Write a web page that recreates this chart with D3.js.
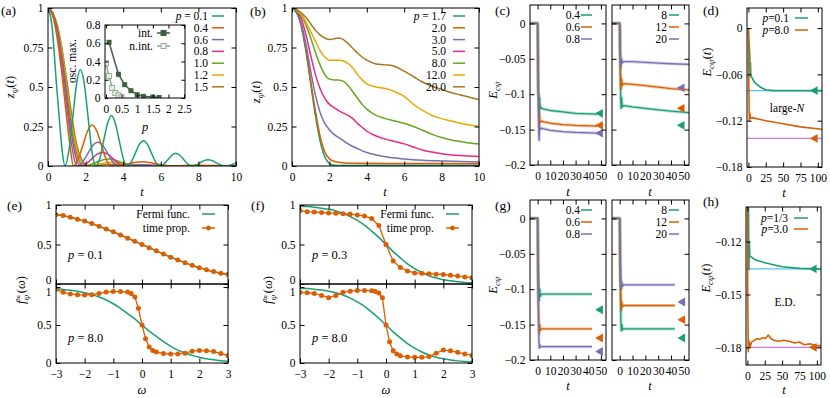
<!DOCTYPE html>
<html>
<head>
<meta charset="utf-8">
<script src="https://cdn.jsdelivr.net/npm/d3@7"></script>
<style>
  body { margin: 0; background: #fff; }
  svg { font-family: "Liberation Serif", "DejaVu Serif", serif; }
</style>
</head>
<body>
<svg id="fig" width="830" height="398"></svg>
<script>
// ---------- data ----------
// (a) z_psi(t), small p
const pA = ['0.1', '0.4', '0.6', '0.8', '1.0', '1.2', '1.5'];
const zA1 = [[0,1],[0.2,0.9],[0.45,0.52],[0.6,0.3],[0.75,0.1],[0.9,0],[1.1,0.09],[1.31,0.3],[1.52,0.52],[1.72,0.61],[1.93,0.52],[2.14,0.3],[2.34,0.09],[2.55,0],[2.76,0.05],[2.96,0.16],[3.17,0.27],[3.38,0.32],[3.58,0.27],[3.79,0.16],[4.0,0.05],[4.2,0],[4.42,0.023],[4.64,0.08],[4.86,0.137],[5.08,0.16],[5.29,0.137],[5.51,0.08],[5.73,0.023],[5.95,0],[6.16,0.012],[6.38,0.04],[6.59,0.068],[6.8,0.08],[7.01,0.068],[7.23,0.04],[7.44,0.012],[7.65,0],[7.87,0.006],[8.09,0.02],[8.3,0.034],[8.52,0.04],[8.74,0.034],[8.96,0.02],[9.18,0.006],[9.4,0],[9.6,0.003],[9.8,0.01],[10,0.02]];
const zA2 = [[0,1],[0.25,0.95],[0.5,0.8],[0.75,0.57],[1.0,0.3],[1.2,0.1],[1.35,0],[1.6,0.04],[1.85,0.13],[2.1,0.22],[2.35,0.26],[2.6,0.22],[2.85,0.13],[3.1,0.04],[3.35,0],[3.8,0.004],[4.2,0.012],[4.6,0.022],[5.0,0.027],[5.4,0.022],[5.8,0.012],[6.2,0.004],[6.6,0],[7,0.002],[8,0.005],[9,0.003],[10,0.002]];
const zA3 = [[0,1],[0.25,0.96],[0.5,0.83],[0.75,0.62],[1.0,0.37],[1.25,0.14],[1.45,0.02],[1.55,0],[1.82,0.022],[2.1,0.075],[2.37,0.128],[2.65,0.15],[2.92,0.128],[3.2,0.075],[3.47,0.022],[3.75,0],[4.3,0.004],[5.0,0.008],[5.7,0.004],[6.3,0.001],[10,0.001]];
const zA4 = [[0,1],[0.25,0.96],[0.5,0.85],[0.75,0.66],[1.0,0.42],[1.25,0.2],[1.5,0.05],[1.7,0],[2.0,0.012],[2.3,0.042],[2.6,0.073],[2.9,0.085],[3.2,0.073],[3.5,0.042],[3.8,0.012],[4.1,0],[5,0.003],[6,0],[10,0]];
const zA5 = [[0,1],[0.25,0.97],[0.5,0.87],[0.75,0.69],[1.0,0.47],[1.25,0.25],[1.5,0.09],[1.75,0.01],[1.85,0],[2.2,0.007],[2.55,0.022],[2.9,0.038],[3.2,0.045],[3.55,0.038],[3.9,0.022],[4.25,0.007],[4.6,0],[10,0]];
const zA6 = [[0,1],[0.25,0.97],[0.5,0.88],[0.75,0.72],[1.0,0.5],[1.25,0.29],[1.5,0.12],[1.75,0.03],[1.95,0],[2.35,0.004],[2.7,0.012],[3.1,0.021],[3.45,0.025],[3.85,0.021],[4.2,0.012],[4.6,0.004],[5.0,0],[10,0]];
const zA7 = [[0,1],[0.25,0.97],[0.5,0.89],[0.75,0.74],[1.0,0.54],[1.25,0.33],[1.5,0.15],[1.75,0.05],[2.0,0.005],[2.1,0],[3.0,0.008],[3.8,0.012],[4.6,0.008],[5.5,0],[10,0]];
// (a) inset: first oscillation maximum
const pInt = [0.1, 0.4, 0.6, 0.8, 1.0, 1.2, 1.5, 1.7];
const maxInt = [0.61, 0.26, 0.146, 0.08, 0.036, 0.018, 0.01, 0.005];
const pNint = [0, 0.1, 0.2, 0.3, 0.4, 0.5];
const maxNint = [0.38, 0.24, 0.11, 0.055, 0.03, 0.008];

// (b) z_psi(t), large p
const pB = ['1.7', '2.0', '3.0', '5.0', '8.0', '12.0', '20.0'];
const zB1 = [[0,1],[0.25,0.97],[0.5,0.88],[0.75,0.72],[1.0,0.52],[1.25,0.32],[1.5,0.16],[1.75,0.06],[2.0,0.015],[2.25,0.004],[2.5,0.003],[4,0.004],[10,0.004]];
const zB2 = [[0,1],[0.25,0.97],[0.5,0.89],[0.75,0.74],[1.0,0.54],[1.25,0.35],[1.5,0.19],[1.75,0.09],[2.0,0.045],[2.25,0.03],[2.5,0.024],[3,0.018],[4,0.017],[6,0.016],[10,0.015]];
const zB3 = [[0,1],[0.25,0.97],[0.5,0.9],[0.75,0.77],[1.0,0.6],[1.25,0.45],[1.5,0.34],[1.75,0.27],[2.0,0.23],[2.25,0.2],[2.5,0.18],[2.75,0.16],[3.0,0.14],[3.5,0.11],[4.0,0.085],[4.5,0.07],[5,0.058],[6,0.045],[7,0.037],[8,0.032],[9,0.028],[10,0.026]];
const zB4 = [[0,1],[0.25,0.98],[0.5,0.93],[0.75,0.83],[1.0,0.7],[1.25,0.58],[1.5,0.49],[1.75,0.43],[2.0,0.39],[2.25,0.37],[2.5,0.35],[2.75,0.335],[3.0,0.32],[3.25,0.3],[3.5,0.27],[3.75,0.245],[4.0,0.22],[4.5,0.19],[5.0,0.17],[5.5,0.155],[6.0,0.14],[6.5,0.12],[7.0,0.1],[7.5,0.088],[8,0.078],[9,0.066],[10,0.06]];
const zB5 = [[0,1],[0.25,0.98],[0.5,0.95],[0.75,0.89],[1.0,0.81],[1.25,0.72],[1.5,0.64],[1.75,0.58],[2.0,0.55],[2.25,0.545],[2.5,0.545],[2.75,0.535],[3.0,0.51],[3.25,0.47],[3.5,0.43],[3.75,0.39],[4.0,0.36],[4.5,0.32],[5.0,0.3],[5.5,0.285],[6.0,0.27],[6.5,0.25],[7.0,0.225],[7.5,0.2],[8.0,0.18],[8.5,0.165],[9,0.155],[9.5,0.145],[10,0.14]];
const zB6 = [[0,1],[0.25,0.99],[0.5,0.96],[0.75,0.91],[1.0,0.85],[1.25,0.79],[1.5,0.73],[1.75,0.69],[2.0,0.67],[2.25,0.67],[2.5,0.67],[2.75,0.665],[3.0,0.65],[3.25,0.62],[3.5,0.58],[3.75,0.545],[4.0,0.52],[4.5,0.5],[5.0,0.49],[5.5,0.47],[6.0,0.44],[6.5,0.39],[7.0,0.35],[7.5,0.32],[8.0,0.3],[8.5,0.285],[9,0.27],[9.5,0.26],[10,0.25]];
const zB7 = [[0,1],[0.25,0.99],[0.5,0.97],[0.75,0.94],[1.0,0.9],[1.25,0.86],[1.5,0.83],[1.75,0.81],[2.0,0.8],[2.25,0.805],[2.5,0.81],[2.75,0.8],[3.0,0.775],[3.25,0.745],[3.5,0.715],[3.75,0.69],[4.0,0.67],[4.5,0.645],[5.0,0.64],[5.5,0.63],[6.0,0.6],[6.5,0.565],[7.0,0.53],[7.5,0.505],[8.0,0.485],[8.5,0.465],[9,0.45],[9.5,0.435],[10,0.42]];

// (c) E_cpsi(t), left: p = 0.4, 0.6, 0.8 ; right: p = 8, 12, 20
const pCL = ['0.4', '0.6', '0.8'];
const pCR = ['8', '12', '20'];
const eC04 = [[-6,0],[0,0],[0.3,-0.05],[0.6,-0.1],[1,-0.1],[1.3,-0.13],[1.6,-0.105],[2,-0.12],[2.5,-0.118],[3,-0.12],[5,-0.121],[10,-0.123],[20,-0.125],[30,-0.127],[47,-0.128]];
const eC06 = [[-6,0],[0,0],[0.5,-0.08],[1,-0.125],[1.3,-0.145],[1.6,-0.13],[2,-0.14],[3,-0.138],[5,-0.139],[10,-0.141],[20,-0.143],[30,-0.144],[47,-0.145]];
const eC08 = [[-6,0],[0,0],[0.5,-0.1],[1,-0.16],[1.3,-0.165],[1.6,-0.145],[2,-0.15],[3,-0.148],[5,-0.149],[10,-0.151],[20,-0.153],[30,-0.154],[47,-0.155]];
const eC8 = [[-6,0],[0,0],[0.5,-0.08],[1,-0.12],[1.5,-0.105],[2,-0.118],[3,-0.116],[10,-0.118],[20,-0.12],[30,-0.122],[40,-0.124],[54,-0.126]];
const eC12 = [[-6,0],[0,0],[0.5,-0.06],[1,-0.093],[1.5,-0.078],[2,-0.088],[3,-0.085],[10,-0.086],[20,-0.088],[30,-0.09],[40,-0.092],[54,-0.094]];
const eC20 = [[-6,0],[0,0],[0.5,-0.04],[1,-0.062],[1.5,-0.05],[2,-0.056],[3,-0.054],[10,-0.054],[20,-0.055],[30,-0.056],[40,-0.057],[54,-0.058]];
const markCL = [-0.127, -0.144, -0.155];
const markCR = [-0.144, -0.12, -0.091];

// (d) large-N, p = 0.1 and 8.0
const eD01 = [[0,0],[1,-0.02],[2,-0.035],[2.5,-0.06],[3,-0.045],[3.5,-0.063],[5,-0.064],[8,-0.069],[12,-0.073],[18,-0.077],[25,-0.08],[35,-0.081],[50,-0.081],[106,-0.081]];
const eD8 = [[0,0],[0.5,-0.06],[1,-0.1],[1.5,-0.12],[2,-0.11],[3,-0.117],[5,-0.116],[10,-0.117],[25,-0.12],[50,-0.124],[75,-0.128],[106,-0.131]];
const limD = [-0.081, -0.143];

// (e), (f) distribution f_psi(omega)
const omega = [-3,-2.75,-2.5,-2.25,-2,-1.75,-1.5,-1.25,-1,-0.75,-0.5,-0.25,0,0.25,0.5,0.75,1,1.25,1.5,1.75,2,2.25,2.5,2.75,3];
const omegaFine = [-3,-2.75,-2.5,-2.25,-2,-1.75,-1.5,-1.25,-1,-0.75,-0.5,-0.375,-0.25,-0.125,0,0.125,0.25,0.375,0.5,0.75,1,1.25,1.5,1.75,2,2.25,2.5,2.75,3];
const fermiE1 = [0.88,0.865,0.845,0.82,0.795,0.765,0.73,0.695,0.66,0.62,0.58,0.54,0.5,0.46,0.42,0.38,0.34,0.305,0.27,0.235,0.205,0.18,0.155,0.135,0.12];
const propE1 = [0.88,0.866,0.846,0.821,0.796,0.766,0.732,0.696,0.661,0.621,0.58,0.54,0.5,0.46,0.42,0.379,0.34,0.304,0.269,0.236,0.206,0.181,0.157,0.137,0.122];
const fermiE2 = [0.977,0.969,0.958,0.944,0.924,0.9,0.868,0.83,0.78,0.72,0.65,0.58,0.5,0.42,0.35,0.28,0.22,0.17,0.132,0.1,0.076,0.056,0.042,0.031,0.023];
const propE2 = [0.97,0.93,0.91,0.9,0.895,0.9,0.915,0.935,0.94,0.94,0.935,0.915,0.87,0.72,0.5,0.32,0.21,0.165,0.145,0.125,0.12,0.12,0.13,0.155,0.165,0.16,0.15,0.125,0.1];
const fermiF = [0.985,0.98,0.972,0.96,0.945,0.925,0.895,0.855,0.805,0.745,0.67,0.59,0.5,0.41,0.33,0.255,0.195,0.145,0.105,0.075,0.055,0.04,0.028,0.02,0.015];
const propF1 = [0.93,0.915,0.91,0.905,0.9,0.895,0.89,0.885,0.875,0.86,0.83,0.74,0.5,0.29,0.21,0.165,0.14,0.135,0.13,0.125,0.12,0.11,0.1,0.09,0.08];
const propF2 = [0.93,0.925,0.915,0.89,0.86,0.89,0.93,0.945,0.955,0.955,0.95,0.94,0.92,0.86,0.5,0.28,0.16,0.12,0.095,0.08,0.075,0.075,0.085,0.13,0.17,0.16,0.14,0.12,0.1];

// (g) same as (c), second system
const eG04 = [[-6,0],[0,0],[0.5,-0.07],[1,-0.1],[1.3,-0.116],[1.7,-0.1],[2.2,-0.11],[3,-0.107],[43,-0.107]];
const eG06 = [[-6,0],[0,0],[0.5,-0.1],[1,-0.15],[1.3,-0.163],[1.7,-0.15],[2.2,-0.158],[3,-0.156],[43,-0.156]];
const eG08 = [[-6,0],[0,0],[0.5,-0.12],[1,-0.17],[1.3,-0.183],[1.7,-0.178],[2.2,-0.182],[3,-0.181],[43,-0.181]];
const eG8 = [[-6,0],[0,0],[0.5,-0.1],[1,-0.15],[1.3,-0.159],[1.7,-0.15],[2.2,-0.157],[3,-0.156],[43,-0.156]];
const eG12 = [[-6,0],[0,0],[0.5,-0.08],[1,-0.12],[1.3,-0.13],[1.7,-0.118],[2.2,-0.125],[3,-0.123],[43,-0.123]];
const eG20 = [[-6,0],[0,0],[0.5,-0.06],[1,-0.09],[1.3,-0.1],[1.7,-0.09],[2.2,-0.096],[3,-0.094],[43,-0.094]];
const markGL = [-0.129, -0.169, -0.188];
const markGR = [-0.169, -0.143, -0.118];

// (h) exact diagonalisation, p = 1/3 and 3.0
const eH13 = [[1.5,-0.095],[2.2,-0.136],[2.8,-0.12],[3.5,-0.1285],[6,-0.1288],[12,-0.1305],[25,-0.132],[50,-0.1343],[75,-0.1352],[100,-0.1355],[106,-0.1356]];
const eH3 = [[0,-0.09],[0.5,-0.15],[1.2,-0.1825],[2,-0.176],[4,-0.18],[6,-0.177],[10,-0.176],[14,-0.175],[18,-0.1755],[22,-0.1745],[26,-0.175],[30,-0.173],[34,-0.175],[38,-0.176],[45,-0.1765],[52,-0.176],[60,-0.1765],[68,-0.1775],[75,-0.177],[82,-0.1785],[90,-0.178],[98,-0.179],[106,-0.179]];
const limH = [-0.1355, -0.18];

// ---------- drawing ----------
const C = ['#1b9e77', '#d95f02', '#7570b3', '#e7298a', '#66a61e', '#e6ab02', '#a6761d'];
const LBLUE = '#56c1e8', VIOLET = '#cc7ae0';
const TICK_FS = 11.5;
const svg = d3.select('#fig');
let nClip = 0;
const fmt = d3.format('~g');

function panel(b, xd, yd, o) {
  o = o || {};
  const x = d3.scaleLinear().domain(xd).range([b.x0, b.x1]);
  const y = d3.scaleLinear().domain(yd).range([b.y1, b.y0]);
  const id = 'clip' + (nClip++);
  svg.append('clipPath').attr('id', id).append('rect')
    .attr('x', b.x0).attr('y', b.y0).attr('width', b.x1 - b.x0).attr('height', b.y1 - b.y0);
  if (o.fill) svg.append('rect').attr('x', b.x0).attr('y', b.y0)
    .attr('width', b.x1 - b.x0).attr('height', b.y1 - b.y0).attr('fill', '#fff');
  const plot = svg.append('g').attr('clip-path', `url(#${id})`);
  const ax = svg.append('g');
  const tl = o.tick || 4.5;
  const axes = [
    [d3.axisBottom(x).tickValues(o.xt).tickFormat(o.xlab === false ? '' : fmt).tickPadding(7), `translate(0,${b.y1})`, 'b'],
    [d3.axisTop(x).tickValues(o.xt).tickFormat(''), `translate(0,${b.y0})`, 't'],
    [d3.axisLeft(y).tickValues(o.yt).tickFormat(o.ylab === false ? '' : fmt).tickPadding(4.5), `translate(${b.x0},0)`, 'l'],
    [d3.axisRight(y).tickValues(o.yt).tickFormat(''), `translate(${b.x1},0)`, 'r']
  ];
  axes.forEach(([a, tr, side]) => {
    const g = ax.append('g').attr('transform', tr)
      .call(a.tickSizeInner(-tl).tickSizeOuter(0));
    g.select('.domain').remove();
    g.selectAll('line').attr('stroke', '#000');
    g.selectAll('text').attr('font-size', TICK_FS).attr('fill', '#000')
      .attr('font-family', '"Liberation Serif", serif');
    if (side === 'l' && o.yshift) {
      g.selectAll('.tick').each(function (d) {
        if (o.yshift[d] !== undefined) d3.select(this).select('text').attr('dy', o.yshift[d]);
      });
    }
  });
  ax.append('rect').attr('x', b.x0).attr('y', b.y0)
    .attr('width', b.x1 - b.x0).attr('height', b.y1 - b.y0)
    .attr('fill', 'none').attr('stroke', '#000').attr('stroke-width', 1);
  return { x, y, plot, ax };
}

function curve(P, data, color, w, smooth) {
  const line = d3.line().x(d => P.x(d[0])).y(d => P.y(d[1]));
  if (smooth) line.curve(d3.curveMonotoneX);
  return P.plot.append('path').datum(data).attr('d', line)
    .attr('fill', 'none').attr('stroke', color).attr('stroke-width', w || 1.5)
    .attr('stroke-linejoin', 'round');
}

// text made of parts {t, i (italic), dy, dx, s (size)}
function mtext(x, y, parts, o) {
  o = o || {};
  const t = svg.append('text').attr('x', x).attr('y', y)
    .attr('font-size', o.size || 12.5).attr('text-anchor', o.anchor || 'start').attr('fill', '#000');
  if (o.rot) t.attr('transform', `rotate(-90,${x},${y})`);
  parts.forEach(p => {
    const s = t.append('tspan').text(p.t);
    if (p.i) s.attr('font-style', 'italic');
    if (p.dy) s.attr('dy', p.dy);
    if (p.dx) s.attr('dx', p.dx);
    if (p.s) s.attr('font-size', p.s);
  });
  return t;
}

function legendLine(xEnd, y, parts, color, x0, x1, marker) {
  mtext(xEnd, y + 4, parts, { anchor: 'end', size: TICK_FS });
  svg.append('line').attr('x1', x0).attr('x2', x1).attr('y1', y).attr('y2', y)
    .attr('stroke', color).attr('stroke-width', 1.5);
  if (marker === 'dot') svg.append('circle').attr('cx', (x0 + x1) / 2).attr('cy', y).attr('r', 2.4).attr('fill', color);
  if (marker === 'sq' || marker === 'osq') svg.append('rect').attr('x', (x0 + x1) / 2 - 2.5).attr('y', y - 2.5)
    .attr('width', 5).attr('height', 5)
    .attr('fill', marker === 'sq' ? color : '#fff').attr('stroke', color).attr('stroke-width', 1);
}

function triangles(P, tx, vals, cols) {
  P.plot.selectAll(null).data(vals).enter().append('path')
    .attr('d', d3.symbol().type(d3.symbolTriangle).size(34))
    .attr('transform', (d) => `translate(${P.x(tx)},${P.y(d)}) rotate(-90)`)
    .attr('fill', (d, i) => cols[i]);
}

const zLabel = [{ t: 'z', i: 1 }, { t: 'ψ', i: 1, dy: 3, s: 9 }, { t: '(', dy: -3 }, { t: 't', i: 1 }, { t: ')' }];
const eLabel = [{ t: 'E', i: 1 }, { t: 'cψ', i: 1, dy: 3, s: 9 }];
const eLabelT = [{ t: 'E', i: 1 }, { t: 'cψ', i: 1, dy: 3, s: 9 }, { t: '(', dy: -3 }, { t: 't', i: 1 }, { t: ')' }];
const fLabel = [{ t: 'f', i: 1 }, { t: '∞', dy: -4, s: 8.5 }, { t: 'ψ', i: 1, dx: -6, dy: 8, s: 9 }, { t: '(', dy: -4, dx: 1.5 }, { t: 'ω', i: 1 }, { t: ')' }];
const tT = [{ t: 't', i: 1 }];
const tW = [{ t: 'ω', i: 1 }];

// ---- (a) ----
const A = panel({ x0: 48, x1: 236, y0: 8, y1: 166 }, [0, 10], [0, 1],
  { xt: [0, 2, 4, 6, 8, 10], yt: [0, 0.25, 0.5, 0.75, 1] });
[zA1, zA2, zA3, zA4, zA5, zA6, zA7].slice().reverse().forEach((s, k) => curve(A, s, C[6 - k], 1.5, true));
const In = panel({ x0: 105, x1: 185, y0: 25, y1: 98 }, [-0.03, 2.53], [0, 0.8],
  { xt: [0, 0.5, 1, 1.5, 2, 2.5], yt: [0, 0.2, 0.4, 0.6, 0.8], tick: 3.5, fill: true });
const intPts = pInt.map((p, i) => [p, maxInt[i]]);
const nintPts = pNint.map((p, i) => [p, maxNint[i]]);
curve(In, intPts, '#3e5e3e', 1.5);
curve(In, nintPts, '#8fab8f', 1.5);
In.plot.selectAll(null).data(intPts).enter().append('rect')
  .attr('x', d => In.x(d[0]) - 2.5).attr('y', d => In.y(d[1]) - 2.5).attr('width', 5).attr('height', 5).attr('fill', '#3e5e3e');
In.plot.selectAll(null).data(nintPts).enter().append('rect')
  .attr('x', d => In.x(d[0]) - 2.5).attr('y', d => In.y(d[1]) - 2.5).attr('width', 5).attr('height', 5)
  .attr('fill', '#fff').attr('fill-opacity', 0.6).attr('stroke', '#8fab8f');
legendLine(153, 33, [{ t: 'int.' }], '#3e5e3e', 157, 170, 'sq');
legendLine(153, 46, [{ t: 'n.int.' }], '#8fab8f', 157, 170, 'osq');
mtext(76, 61, [{ t: 'osc. max.' }], { anchor: 'middle', rot: 1, size: TICK_FS });
mtext(145, 131, [{ t: 'p', i: 1 }], { anchor: 'middle', size: 12.5 });
pA.forEach((p, i) => {
  const parts = i === 0 ? [{ t: 'p', i: 1 }, { t: ' = ' + p }] : [{ t: p }];
  legendLine(208, 16 + 11.8 * i, parts, C[i], 212, 224);
});
mtext(14, 87, zLabel, { anchor: 'middle', rot: 1 });
mtext(142, 196, tT, { anchor: 'middle' });
mtext(1, 15, [{ t: '(a)' }], { size: 13.5 });

// ---- (b) ----
const B = panel({ x0: 292, x1: 479, y0: 8, y1: 166 }, [0, 10], [0, 1],
  { xt: [0, 2, 4, 6, 8, 10], yt: [0, 0.25, 0.5, 0.75, 1] });
[zB1, zB2, zB3, zB4, zB5, zB6, zB7].forEach((s, k) => curve(B, s, C[k], 1.5, true));
pB.forEach((p, i) => {
  const parts = i === 0 ? [{ t: 'p', i: 1 }, { t: ' = ' + p }] : [{ t: p }];
  legendLine(446, 16 + 11.8 * i, parts, C[i], 453, 465);
});
mtext(260, 92, zLabel, { anchor: 'middle', rot: 1 });
mtext(385, 196, tT, { anchor: 'middle' });
mtext(250, 16, [{ t: '(b)' }], { size: 13.5 });

// ---- (c) ----
function eGrid(box, y0, y1, lab) {
  return panel({ x0: box[0], x1: box[1], y0: y0, y1: y1 }, [-6, 54], [-0.2, 0.026],
    { xt: [0, 10, 20, 30, 40, 50], yt: [-0.2, -0.15, -0.1, -0.05, 0], ylab: lab });
}
function eCurves(P, list, cols) {
  list.forEach((s, k) => curve(P, s, cols[k], 3.2).attr('stroke-opacity', 0.3));
  list.forEach((s, k) => curve(P, s, cols[k], 1.3));
}
const cols3 = [C[0], C[1], C[2]];
const CL = eGrid([530, 606], 5, 165, true);
eCurves(CL, [eC04, eC06, eC08], cols3);
triangles(CL, 49.5, markCL, cols3);
const CR = eGrid([612, 689], 5, 165, false);
eCurves(CR, [eC8, eC12, eC20], cols3);
triangles(CR, 48.5, markCR, cols3);
pCL.forEach((p, i) => legendLine(580, 15 + 12 * i, [{ t: p }], C[i], 581, 592));
pCR.forEach((p, i) => legendLine(667, 15 + 12 * i, [{ t: p }], C[i], 669, 679));
mtext(497, 90, eLabel, { anchor: 'middle', rot: 1 });
mtext(568, 196, tT, { anchor: 'middle' });
mtext(650, 196, tT, { anchor: 'middle' });
mtext(495, 15, [{ t: '(c)' }], { size: 13.5 });

// ---- (d) ----
const D = panel({ x0: 747, x1: 822, y0: 8, y1: 167 }, [-2, 106], [-0.18, 0.026],
  { xt: [0, 25, 50, 75, 100], yt: [-0.18, -0.12, -0.06, 0] });
curve(D, [[-2, limD[0]], [106, limD[0]]], LBLUE, 1.3);
curve(D, [[-2, limD[1]], [106, limD[1]]], VIOLET, 1.3);
curve(D, eD01, C[0], 1.6);
curve(D, eD8, C[1], 1.6);
triangles(D, 96, limD, [C[0], C[1]]);
legendLine(789, 18, [{ t: 'p', i: 1 }, { t: '=0.1' }], C[0], 795, 808);
legendLine(789, 30, [{ t: 'p', i: 1 }, { t: '=8.0' }], C[1], 795, 808);
mtext(787, 112, [{ t: 'large-' }, { t: 'N', i: 1 }], { anchor: 'middle', size: TICK_FS });
mtext(711, 62, eLabelT, { anchor: 'middle', rot: 1 });
mtext(784, 197, tT, { anchor: 'middle' });
mtext(703, 15, [{ t: '(d)' }], { size: 13.5 });

// ---- (e), (f) ----
function fPanels(x0, x1, fermiTop, propTop, fermiBot, propBot, pTop, lab, ylx) {
  const T = panel({ x0: x0, x1: x1, y0: 205, y1: 284 }, [-3, 3], [0, 1],
    { xt: [-3, -2, -1, 0, 1, 2, 3], yt: [0, 0.5, 1], xlab: false, yshift: { 0: '-0.05em' } });
  const Bt = panel({ x0: x0, x1: x1, y0: 284, y1: 363 }, [-3, 3], [0, 1.04],
    { xt: [-3, -2, -1, 0, 1, 2, 3], yt: [0, 0.5, 1], yshift: { 1: '0.75em' } });
  const draw = (P, fermi, prop, grid) => {
    curve(P, omega.map((w, i) => [w, fermi[i]]), C[0], 1.5, true);
    const pts = grid.map((w, i) => [w, prop[i]]);
    curve(P, pts, C[1], 1.3);
    P.plot.selectAll(null).data(pts).enter().append('circle')
      .attr('cx', d => P.x(d[0])).attr('cy', d => P.y(d[1])).attr('r', 2.5).attr('fill', C[1]);
  };
  draw(T, fermiTop, propTop, propTop.length === omega.length ? omega : omegaFine);
  draw(Bt, fermiBot, propBot, propBot.length === omega.length ? omega : omegaFine);
  legendLine(x1 - 38, 214, [{ t: 'Fermi func.' }], C[0], x1 - 26, x1 - 13);
  legendLine(x1 - 38, 228, [{ t: 'time prop.' }], C[1], x1 - 26, x1 - 13, 'dot');
  mtext(x0 + 12, 259, [{ t: 'p', i: 1 }, { t: ' = ' + pTop }], { size: 12.5 });
  mtext(x0 + 12, 342, [{ t: 'p', i: 1 }, { t: ' = 8.0' }], { size: 12.5 });
  mtext(ylx, 290, fLabel, { anchor: 'middle', rot: 1 });
  mtext((x0 + x1) / 2, 394, tW, { anchor: 'middle' });
  mtext(x0 - 55 < 0 ? 0 : x0 - 49, 210, [{ t: lab }], { size: 13.5 });
}
fPanels(56, 228, fermiE1, propE1, fermiE2, propE2, '0.1', '(e)', 25);
fPanels(300, 472, fermiF, propF1, fermiF, propF2, '0.3', '(f)', 272);

// ---- (g) ----
const GL = eGrid([530, 606], 200, 360, true);
eCurves(GL, [eG04, eG06, eG08], cols3);
triangles(GL, 49.5, markGL, cols3);
const GR = eGrid([612, 689], 200, 360, false);
eCurves(GR, [eG8, eG12, eG20], cols3);
triangles(GR, 49, markGR, cols3);
pCL.forEach((p, i) => legendLine(580, 210 + 12 * i, [{ t: p }], C[i], 581, 592));
pCR.forEach((p, i) => legendLine(667, 210 + 12 * i, [{ t: p }], C[i], 669, 679));
mtext(497, 285, eLabel, { anchor: 'middle', rot: 1 });
mtext(568, 390, tT, { anchor: 'middle' });
mtext(650, 390, tT, { anchor: 'middle' });
mtext(495, 210, [{ t: '(g)' }], { size: 13.5 });

// ---- (h) ----
const H = panel({ x0: 746, x1: 821, y0: 207, y1: 365 }, [-2, 106], [-0.19, -0.1004],
  { xt: [0, 25, 50, 75, 100], yt: [-0.18, -0.15, -0.12] });
curve(H, [[-2, limH[0]], [106, limH[0]]], LBLUE, 1.3);
curve(H, [[-2, limH[1]], [106, limH[1]]], VIOLET, 1.3);
curve(H, eH13, C[0], 1.6);
curve(H, eH3, C[1], 1.6);
triangles(H, 96, limH, [C[0], C[1]]);
legendLine(788, 218, [{ t: 'p', i: 1 }, { t: '=1/3' }], C[0], 794, 808);
legendLine(788, 229, [{ t: 'p', i: 1 }, { t: '=3.0' }], C[1], 794, 808);
mtext(785, 306, [{ t: 'E.D.' }], { anchor: 'middle', size: TICK_FS });
mtext(710, 278, eLabelT, { anchor: 'middle', rot: 1 });
mtext(784, 394, tT, { anchor: 'middle' });
mtext(703, 206, [{ t: '(h)' }], { size: 13.5 });
</script>
</body>
</html>
